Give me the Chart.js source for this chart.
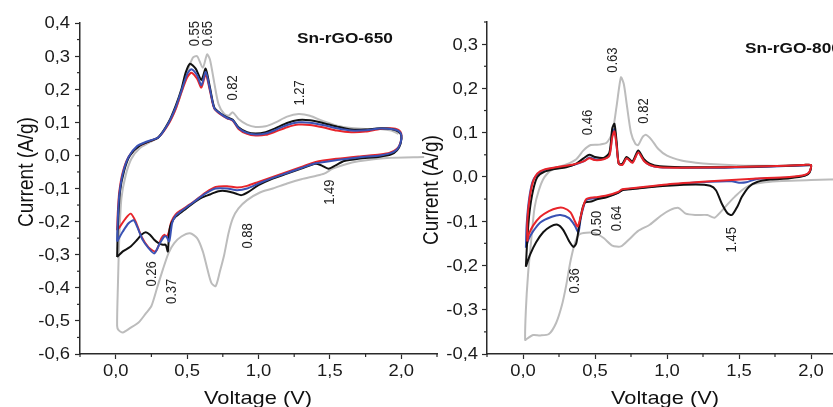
<!DOCTYPE html>
<html lang="en">
<head>
<meta charset="UTF-8">
<title>Sn-rGO cyclic voltammetry</title>
<script src="https://cdn.jsdelivr.net/npm/chart.js"></script>
<style>
  html, body { margin: 0; padding: 0; background: #fff; overflow: hidden; }
  #wrap { position: relative; width: 833px; height: 407px; overflow: hidden; }
  canvas { position: absolute; top: 0; }
  #c650 { left: 0; }
  #c800 { left: 400px; }
</style>
</head>
<body>
<div id="wrap">
  <canvas id="c650" width="450" height="407"></canvas>
  <canvas id="c800" width="460" height="407"></canvas>
</div>
<script>
// ---- axis ticks ----
const xTicks = [0.0, 0.5, 1.0, 1.5, 2.0];
const yTicks650 = [-0.6, -0.5, -0.4, -0.3, -0.2, -0.1, 0.0, 0.1, 0.2, 0.3, 0.4];
const yTicks800 = [-0.4, -0.3, -0.2, -0.1, 0.0, 0.1, 0.2, 0.3];

// ---- Sn-rGO-650 (voltage V, current A/g) ----
const v650Gray = [2.16, 1.90, 1.70, 1.60, 1.52, 1.46, 1.40, 1.30, 1.20, 1.10, 1.01, 0.92, 0.86, 0.82, 0.79, 0.76, 0.73, 0.70, 0.67, 0.64, 0.61, 0.57, 0.52, 0.46, 0.41, 0.37, 0.33, 0.29, 0.25, 0.21, 0.16, 0.10, 0.05, 0.02, 0.01,
  0.015, 0.025, 0.04, 0.07, 0.11, 0.17, 0.24, 0.30, 0.36, 0.41, 0.46, 0.50, 0.54, 0.57, 0.61, 0.64, 0.66, 0.69, 0.72, 0.76, 0.79, 0.82, 0.86, 0.92, 0.98, 1.05, 1.12, 1.20, 1.28, 1.36, 1.45, 1.55, 1.65, 1.75, 1.85, 1.93, 1.98];
const i650Gray = [-0.005, -0.008, -0.018, -0.028, -0.04, -0.055, -0.062, -0.072, -0.085, -0.10, -0.112, -0.135, -0.16, -0.19, -0.235, -0.30, -0.35, -0.395, -0.385, -0.34, -0.29, -0.25, -0.235, -0.245, -0.265, -0.295, -0.345, -0.40, -0.455, -0.478, -0.505, -0.522, -0.535, -0.528, -0.515,
  -0.40, -0.25, -0.13, -0.06, -0.01, 0.022, 0.04, 0.055, 0.09, 0.13, 0.19, 0.25, 0.295, 0.30, 0.265, 0.305, 0.29, 0.22, 0.155, 0.125, 0.12, 0.13, 0.11, 0.093, 0.086, 0.088, 0.10, 0.117, 0.125, 0.12, 0.104, 0.09, 0.083, 0.08, 0.08, 0.075, 0.065];

const v650Black = [0.01, 0.015, 0.03, 0.06, 0.10, 0.17, 0.24, 0.30, 0.37, 0.42, 0.46, 0.49, 0.52, 0.56, 0.60, 0.63, 0.66, 0.69, 0.73, 0.78, 0.82, 0.86, 0.92, 0.98, 1.05, 1.12, 1.20, 1.28, 1.36, 1.45, 1.55, 1.65, 1.75, 1.85, 1.93, 1.98, 2.0,
  1.995, 1.97, 1.93, 1.85, 1.70, 1.60, 1.54, 1.49, 1.44, 1.40, 1.30, 1.20, 1.10, 1.00, 0.93, 0.88, 0.84, 0.78, 0.72, 0.66, 0.60, 0.54, 0.48, 0.42, 0.39, 0.375, 0.365, 0.35, 0.33, 0.30, 0.27, 0.24, 0.21, 0.18, 0.15, 0.10, 0.05, 0.01];
const i650Black = [-0.307, -0.22, -0.11, -0.045, 0.0, 0.03, 0.043, 0.055, 0.10, 0.15, 0.20, 0.25, 0.277, 0.262, 0.228, 0.262, 0.205, 0.145, 0.128, 0.115, 0.108, 0.085, 0.07, 0.066, 0.07, 0.082, 0.098, 0.107, 0.106, 0.098, 0.087, 0.078, 0.078, 0.082, 0.08, 0.072, 0.06,
  0.035, 0.015, 0.003, -0.004, -0.01, -0.017, -0.03, -0.04, -0.03, -0.025, -0.04, -0.055, -0.07, -0.09, -0.11, -0.12, -0.115, -0.108, -0.108, -0.118, -0.128, -0.145, -0.165, -0.185, -0.205, -0.23, -0.29, -0.27, -0.27, -0.265, -0.255, -0.24, -0.232, -0.24, -0.255, -0.277, -0.29, -0.307];

const v650Red = [0.01, 0.015, 0.025, 0.05, 0.09, 0.15, 0.22, 0.30, 0.37, 0.42, 0.46, 0.50, 0.53, 0.57, 0.60, 0.63, 0.66, 0.69, 0.73, 0.78, 0.82, 0.86, 0.92, 0.98, 1.05, 1.12, 1.20, 1.28, 1.36, 1.45, 1.55, 1.65, 1.75, 1.85, 1.93, 1.98, 2.0,
  1.995, 1.97, 1.92, 1.85, 1.70, 1.55, 1.40, 1.30, 1.20, 1.10, 1.00, 0.92, 0.85, 0.78, 0.70, 0.63, 0.54, 0.46, 0.42, 0.39, 0.37, 0.355, 0.34, 0.32, 0.28, 0.23, 0.18, 0.14, 0.105, 0.07, 0.03, 0.01];
const i650Red = [-0.226, -0.17, -0.11, -0.05, -0.005, 0.025, 0.04, 0.055, 0.095, 0.14, 0.19, 0.235, 0.25, 0.232, 0.205, 0.245, 0.195, 0.142, 0.125, 0.112, 0.105, 0.08, 0.065, 0.06, 0.062, 0.072, 0.085, 0.093, 0.092, 0.085, 0.075, 0.07, 0.072, 0.08, 0.082, 0.077, 0.065,
  0.04, 0.02, 0.008, 0.003, -0.003, -0.01, -0.02, -0.035, -0.05, -0.065, -0.08, -0.092, -0.097, -0.093, -0.095, -0.112, -0.142, -0.165, -0.178, -0.20, -0.235, -0.245, -0.24, -0.25, -0.29, -0.278, -0.245, -0.20, -0.176, -0.19, -0.215, -0.226];

const v650Blue = [0.01, 0.015, 0.025, 0.05, 0.09, 0.15, 0.22, 0.30, 0.37, 0.42, 0.46, 0.50, 0.53, 0.57, 0.60, 0.63, 0.66, 0.69, 0.73, 0.78, 0.82, 0.86, 0.92, 0.98, 1.05, 1.12, 1.20, 1.28, 1.36, 1.45, 1.55, 1.65, 1.75, 1.85, 1.93, 1.98, 2.0,
  1.995, 1.97, 1.92, 1.85, 1.70, 1.55, 1.40, 1.30, 1.20, 1.10, 1.00, 0.92, 0.85, 0.78, 0.70, 0.63, 0.54, 0.46, 0.42, 0.395, 0.375, 0.355, 0.34, 0.31, 0.27, 0.23, 0.19, 0.15, 0.126, 0.09, 0.05, 0.01];
const i650Blue = [-0.26, -0.19, -0.12, -0.055, -0.005, 0.028, 0.042, 0.055, 0.098, 0.145, 0.195, 0.245, 0.26, 0.242, 0.212, 0.252, 0.20, 0.143, 0.127, 0.113, 0.106, 0.083, 0.068, 0.063, 0.066, 0.077, 0.092, 0.10, 0.099, 0.092, 0.082, 0.075, 0.076, 0.081, 0.08, 0.074, 0.062,
  0.038, 0.018, 0.006, 0.0, -0.006, -0.014, -0.024, -0.038, -0.053, -0.068, -0.085, -0.10, -0.105, -0.10, -0.10, -0.115, -0.143, -0.168, -0.182, -0.205, -0.26, -0.245, -0.245, -0.265, -0.296, -0.28, -0.256, -0.215, -0.196, -0.205, -0.23, -0.26];

// ---- Sn-rGO-800 ----
const v800Gray = [2.25, 2.0, 1.80, 1.68, 1.58, 1.52, 1.47, 1.42, 1.37, 1.33, 1.28, 1.20, 1.13, 1.08, 1.02, 0.96, 0.88, 0.80, 0.74, 0.68, 0.62, 0.56, 0.50, 0.44, 0.39, 0.36, 0.33, 0.30, 0.27, 0.23, 0.18, 0.12, 0.07, 0.03, 0.015,
  0.02, 0.035, 0.055, 0.08, 0.11, 0.15, 0.21, 0.30, 0.37, 0.42, 0.47, 0.53, 0.58, 0.62, 0.65, 0.68, 0.70, 0.72, 0.75, 0.78, 0.80, 0.83, 0.855, 0.89, 0.94, 1.00, 1.10, 1.20, 1.30, 1.50, 1.70, 1.90, 2.0];
const i800Gray = [-0.005, -0.007, -0.009, -0.012, -0.018, -0.03, -0.045, -0.062, -0.08, -0.092, -0.086, -0.086, -0.083, -0.07, -0.075, -0.087, -0.108, -0.122, -0.14, -0.157, -0.155, -0.138, -0.127, -0.126, -0.13, -0.15, -0.19, -0.245, -0.29, -0.33, -0.355, -0.358, -0.357, -0.365, -0.368,
  -0.30, -0.22, -0.15, -0.07, -0.03, 0.0, 0.018, 0.028, 0.04, 0.06, 0.072, 0.073, 0.077, 0.10, 0.16, 0.225, 0.21, 0.165, 0.10, 0.075, 0.072, 0.09, 0.095, 0.085, 0.063, 0.048, 0.037, 0.032, 0.029, 0.026, 0.025, 0.025, 0.025];

const v800Black = [0.02, 0.03, 0.045, 0.07, 0.10, 0.15, 0.22, 0.30, 0.37, 0.42, 0.46, 0.50, 0.56, 0.60, 0.62, 0.635, 0.65, 0.665, 0.69, 0.72, 0.76, 0.80, 0.84, 0.88, 0.95, 1.10, 1.40, 1.70, 1.95, 2.0,
  1.99, 1.96, 1.85, 1.72, 1.63, 1.57, 1.52, 1.49, 1.45, 1.42, 1.38, 1.34, 1.30, 1.20, 1.00, 0.80, 0.69, 0.66, 0.58, 0.52, 0.48, 0.43, 0.41, 0.39, 0.37, 0.35, 0.32, 0.28, 0.24, 0.19, 0.14, 0.09, 0.05, 0.02];
const i800Black = [-0.203, -0.14, -0.08, -0.03, 0.0, 0.012, 0.018, 0.022, 0.03, 0.042, 0.05, 0.045, 0.043, 0.055, 0.11, 0.12, 0.08, 0.03, 0.03, 0.045, 0.035, 0.06, 0.04, 0.03, 0.024, 0.022, 0.022, 0.024, 0.027, 0.027,
  0.01, 0.003, -0.003, -0.006, -0.011, -0.022, -0.045, -0.066, -0.086, -0.082, -0.06, -0.03, -0.02, -0.017, -0.02, -0.026, -0.03, -0.036, -0.046, -0.05, -0.055, -0.058, -0.075, -0.11, -0.15, -0.158, -0.145, -0.12, -0.108, -0.112, -0.125, -0.148, -0.175, -0.203];

const v800Red = [0.03, 0.03, 0.045, 0.07, 0.10, 0.15, 0.25, 0.35, 0.42, 0.46, 0.50, 0.56, 0.60, 0.62, 0.635, 0.65, 0.665, 0.69, 0.72, 0.76, 0.80, 0.84, 0.88, 0.95, 1.10, 1.40, 1.70, 1.95, 2.0,
  1.99, 1.96, 1.85, 1.60, 1.30, 1.00, 0.80, 0.69, 0.66, 0.58, 0.50, 0.44, 0.42, 0.40, 0.38, 0.36, 0.33, 0.28, 0.24, 0.18, 0.12, 0.07, 0.04, 0.03];
const i800Red = [-0.146, -0.10, -0.05, -0.01, 0.008, 0.017, 0.023, 0.028, 0.035, 0.042, 0.038, 0.04, 0.048, 0.09, 0.103, 0.07, 0.03, 0.027, 0.042, 0.032, 0.055, 0.036, 0.027, 0.022, 0.021, 0.022, 0.024, 0.027, 0.027,
  0.012, 0.005, 0.0, -0.004, -0.01, -0.017, -0.024, -0.028, -0.034, -0.042, -0.046, -0.05, -0.065, -0.09, -0.112, -0.10, -0.08, -0.07, -0.07, -0.077, -0.09, -0.11, -0.13, -0.146];

const v800Blue = [0.02, 0.025, 0.04, 0.065, 0.10, 0.15, 0.25, 0.35, 0.42, 0.46, 0.50, 0.56, 0.60, 0.62, 0.635, 0.65, 0.665, 0.69, 0.72, 0.76, 0.80, 0.84, 0.88, 0.95, 1.10, 1.40, 1.70, 1.95, 2.0,
  1.99, 1.96, 1.85, 1.62, 1.55, 1.50, 1.45, 1.30, 1.00, 0.80, 0.69, 0.66, 0.58, 0.50, 0.44, 0.42, 0.40, 0.385, 0.36, 0.32, 0.26, 0.20, 0.12, 0.07, 0.04, 0.02];
const i800Blue = [-0.16, -0.11, -0.055, -0.012, 0.006, 0.016, 0.022, 0.027, 0.035, 0.044, 0.04, 0.041, 0.05, 0.095, 0.108, 0.072, 0.03, 0.028, 0.043, 0.033, 0.056, 0.037, 0.027, 0.022, 0.021, 0.021, 0.023, 0.026, 0.026,
  0.011, 0.004, -0.001, -0.005, -0.012, -0.013, -0.01, -0.011, -0.018, -0.025, -0.029, -0.036, -0.044, -0.048, -0.052, -0.068, -0.095, -0.125, -0.11, -0.093, -0.086, -0.09, -0.103, -0.123, -0.14, -0.16];

// ---- peak annotations ----
const peak650Text = ['0.55', '0.65', '0.82', '1.27', '1.49', '0.88', '0.26', '0.37'];
const peak650V = [0.555, 0.646, 0.821, 1.29, 1.50, 0.926, 0.254, 0.394];
const peak650I = [0.368, 0.368, 0.204, 0.189, -0.111, -0.243, -0.358, -0.411];
const peak800Text = ['0.46', '0.63', '0.82', '0.50', '0.64', '1.45', '0.36'];
const peak800V = [0.451, 0.625, 0.84, 0.514, 0.653, 1.45, 0.361];
const peak800I = [0.123, 0.264, 0.149, -0.105, -0.094, -0.142, -0.235];

const FONT = "'Liberation Sans', Arial, sans-serif";
const AXIS = '#2a2a2a';
const SX = 1.15;   // the original figure is slightly stretched sideways

function pts(v, i) {
  return v.map((x, k) => ({ x: x, y: i[k] }));
}

function curve(v, i, color) {
  return {
    data: pts(v, i),
    showLine: true,
    borderColor: color,
    borderWidth: 2,
    pointRadius: 0,
    tension: 0.25,
    fill: false
  };
}

const fmt = v => v.toFixed(1).replace('.', ',');

// text drawn wider, rotated if needed
function txt(ctx, t, x, y, rot) {
  ctx.save();
  ctx.translate(x, y);
  ctx.scale(SX, 1);
  if (rot) ctx.rotate(-Math.PI / 2);
  ctx.fillText(t, 0, 0);
  ctx.restore();
}

// tick labels, minor ticks, peak labels and titles
const extras = {
  id: 'extras',
  afterDraw(chart, args, opts) {
    const ctx = chart.ctx;
    const xs = chart.scales.x, ys = chart.scales.y;
    const area = chart.chartArea;
    ctx.save();
    ctx.strokeStyle = AXIS;
    ctx.lineWidth = 1.2;
    const halves = (ticks, lo, hi) => {
      const out = [];
      const step = ticks[1] - ticks[0];
      for (let k = -1; k < ticks.length; k++) {
        const m = ticks[0] + (k + 0.5) * step;
        if (m >= lo - 1e-9 && m <= hi + 1e-9) out.push(m);
      }
      return out;
    };
    halves(opts.xTicks, xs.min, xs.max).forEach(v => {
      const p = xs.getPixelForValue(v);
      ctx.beginPath(); ctx.moveTo(p, area.bottom); ctx.lineTo(p, area.bottom + 3); ctx.stroke();
    });
    halves(opts.yTicks, ys.min, ys.max).forEach(v => {
      const p = ys.getPixelForValue(v);
      ctx.beginPath(); ctx.moveTo(area.left, p); ctx.lineTo(area.left - 3, p); ctx.stroke();
    });

    // tick labels from the scales' own ticks
    ctx.fillStyle = '#1a1a1a';
    ctx.font = '16px ' + FONT;
    ctx.textAlign = 'center';
    ctx.textBaseline = 'top';
    xs.ticks.forEach(t => txt(ctx, fmt(t.value), xs.getPixelForValue(t.value), area.bottom + 10));
    ctx.textAlign = 'right';
    ctx.textBaseline = 'middle';
    ys.ticks.forEach(t => txt(ctx, fmt(t.value), area.left - opts.yLabelGap, ys.getPixelForValue(t.value) + 1));

    ctx.fillStyle = '#222';
    ctx.font = '13px ' + FONT;
    ctx.textAlign = 'center';
    ctx.textBaseline = 'middle';
    opts.peakText.forEach((t, k) => {
      txt(ctx, t, xs.getPixelForValue(opts.peakV[k]), ys.getPixelForValue(opts.peakI[k]), true);
    });

    ctx.fillStyle = '#111';
    ctx.font = 'bold 15px ' + FONT;
    ctx.textAlign = 'left';
    ctx.textBaseline = 'alphabetic';
    txt(ctx, opts.title, opts.titleX, opts.titleY);

    ctx.font = '19px ' + FONT;
    ctx.textAlign = 'center';
    txt(ctx, 'Voltage (V)', opts.xTitleX, 404);
    ctx.textBaseline = 'middle';
    txt(ctx, 'Current (A/g)', opts.yTitleX, opts.yTitleY, true);
    ctx.restore();
  }
};

function makeChart(id, sets, yMin, yMax, yTicks, yWidth, layoutPad, extraOpts) {
  return new Chart(document.getElementById(id), {
    type: 'scatter',
    data: { datasets: sets },
    options: {
      responsive: false,
      animation: false,
      layout: { padding: layoutPad },
      plugins: {
        legend: { display: false },
        tooltip: { enabled: false },
        extras: extraOpts
      },
      scales: {
        x: {
          type: 'linear', min: -0.25, max: 2.25,
          afterBuildTicks: s => { s.ticks = xTicks.map(v => ({ value: v })); },
          afterFit: s => { s.height = 53; },
          ticks: { display: false },
          grid: { drawOnChartArea: false, tickLength: 5, tickColor: AXIS, tickWidth: 1.2 },
          border: { color: AXIS, width: 1.5 }
        },
        y: {
          type: 'linear', min: yMin, max: yMax,
          afterBuildTicks: s => { s.ticks = yTicks.map(v => ({ value: v })); },
          afterFit: s => { s.width = yWidth; },
          ticks: { display: false },
          grid: { drawOnChartArea: false, tickLength: 5, tickColor: AXIS, tickWidth: 1.2 },
          border: { color: AXIS, width: 1.5 }
        }
      }
    },
    plugins: [extras]
  });
}

const GRAY = '#bcbcbc', BLACK = '#111111', BLUE = '#3a52b4', RED = '#e8242a';

// first dataset is drawn on top
makeChart('c650', [
  curve(v650Blue, i650Blue, BLUE),
  curve(v650Black, i650Black, BLACK),
  curve(v650Red, i650Red, RED),
  curve(v650Gray, i650Gray, GRAY)
], -0.6, 0.4, yTicks650, 80, { top: 23, right: 13, left: 0, bottom: 0 }, {
  xTicks: xTicks, yTicks: yTicks650, yLabelGap: 10,
  peakText: peak650Text, peakV: peak650V, peakI: peak650I,
  title: 'Sn-rGO-650', titleX: 297, titleY: 43,
  xTitleX: 258, yTitleX: 27, yTitleY: 172
});

makeChart('c800', [
  curve(v800Red, i800Red, RED),
  curve(v800Black, i800Black, BLACK),
  curve(v800Blue, i800Blue, BLUE),
  curve(v800Gray, i800Gray, GRAY)
], -0.4, 0.35, yTicks800, 87, { top: 22, right: 13, left: 0, bottom: 0 }, {
  xTicks: xTicks, yTicks: yTicks800, yLabelGap: 9,
  peakText: peak800Text, peakV: peak800V, peakI: peak800I,
  title: 'Sn-rGO-800', titleX: 345, titleY: 53,
  xTitleX: 265, yTitleX: 32, yTitleY: 190
});
</script>
</body>
</html>
